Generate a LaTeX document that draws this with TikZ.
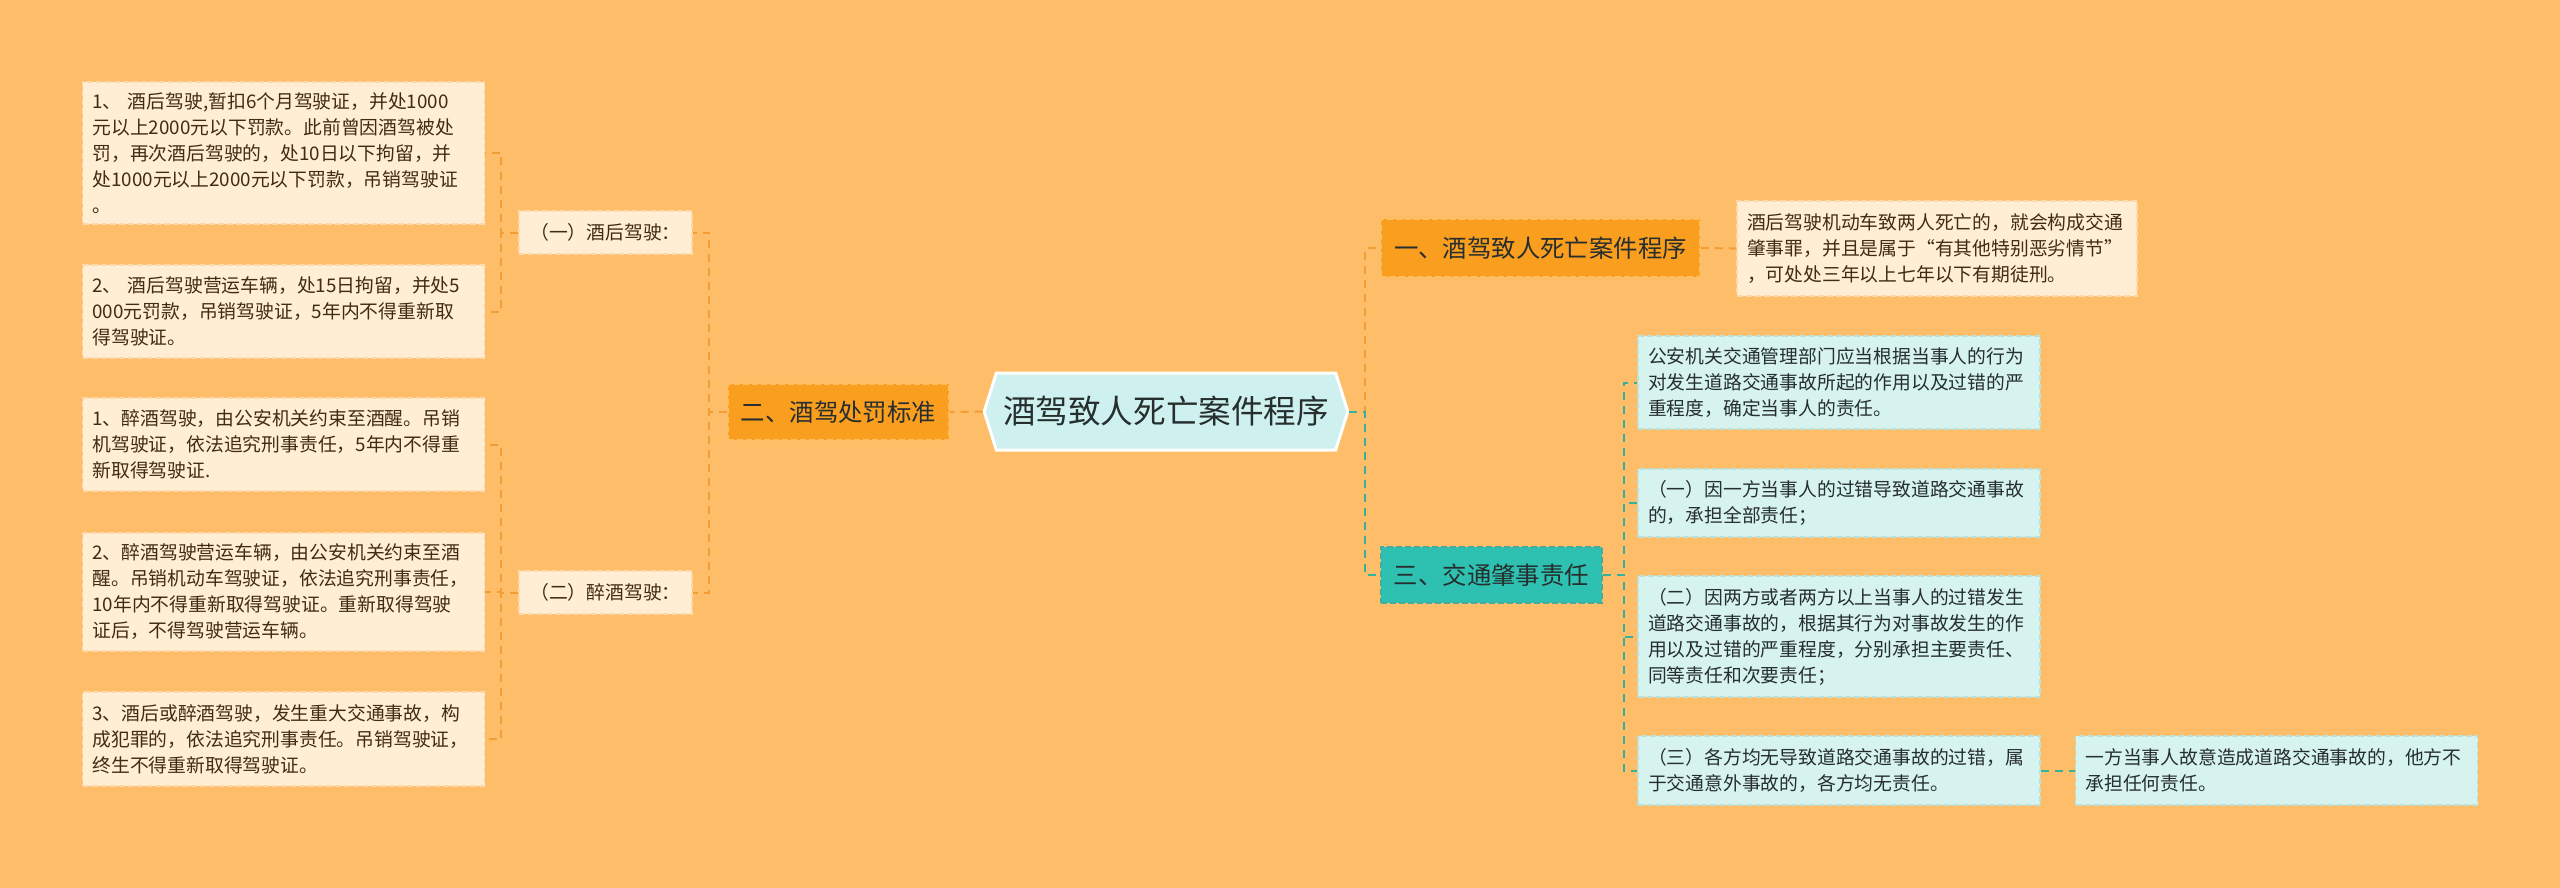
\documentclass[tikz,border=0pt]{standalone}
\usepackage{fontspec}
\setmainfont{Noto Sans CJK SC}
\usetikzlibrary{shapes.symbols}
\definecolor{bgorange}{RGB}{254,189,104}
\definecolor{leafo}{RGB}{255,237,212}
\definecolor{leafoline}{RGB}{252,218,172}
\definecolor{topo}{RGB}{249,158,30}
\definecolor{topoline}{RGB}{252,190,95}
\definecolor{topt}{RGB}{46,192,176}
\definecolor{toptline}{RGB}{70,170,160}
\definecolor{leaft}{RGB}{214,243,239}
\definecolor{leaftline}{RGB}{186,226,218}
\definecolor{hubfill}{RGB}{206,241,239}
\definecolor{lineo}{RGB}{242,158,52}
\definecolor{linet}{RGB}{52,178,158}
\definecolor{txtbrown}{RGB}{64,44,16}
\definecolor{txtdark}{RGB}{38,46,46}
\begin{document}
\begin{tikzpicture}[x=0.5pt,y=-0.5pt,font=\fontsize{9.4}{13}\selectfont,
  boxline/.style={dash pattern=on 3pt off 1.5pt,line width=0.8pt},
  oleaf/.style={boxline,fill=leafo,draw=leafoline,text=txtbrown,align=left,
    text width=191pt,inner xsep=5pt,inner ysep=0pt},
  tleaf/.style={oleaf,fill=leaft,draw=leaftline,text=txtdark},
  omid/.style={boxline,fill=leafo,draw=leafoline,text=txtbrown,
    minimum width=86.5pt,minimum height=21.5pt},
  obranch/.style={boxline,fill=topo,draw=topoline,text=txtdark,
    font=\fontsize{12.2}{14}\selectfont,minimum width=110.5pt,minimum height=28pt},
  tbranch/.style={obranch,fill=topt,draw=toptline},
  hub/.style={shape=signal,signal to=east and west,signal pointer angle=145,
    fill=hubfill,draw=white,line width=1.5pt,text=txtdark,
    font=\fontsize{16.3}{18}\selectfont,minimum width=181pt,minimum height=38.5pt},
  oline/.style={draw=lineo,line width=1pt,dash pattern=on 4pt off 3pt},
  tline/.style={draw=linet,line width=1pt,dash pattern=on 4pt off 3pt}]
  \fill[bgorange] (0,0) rectangle (2560,888);
  % centre
  \node[hub] (C) at (1166,411.5) {酒驾致人死亡案件程序};
  % left: penalties
  \node[obranch] (B) at (838.5,412) {二、酒驾处罚标准};
  \node[omid] (A1) at (605.5,232.5) {（一）酒后驾驶：};
  \node[omid] (A2) at (605.5,592.5) {（二）醉酒驾驶：};
  \node[oleaf,minimum height=71pt] (L1) at (283.5,153)
    {1、 酒后驾驶,暂扣6个月驾驶证，并处1000\\元以上2000元以下罚款。此前曾因酒驾被处\\
     罚，再次酒后驾驶的，处10日以下拘留，并\\处1000元以上2000元以下罚款，吊销驾驶证\\。};
  \node[oleaf,minimum height=46.5pt] (L2) at (283.5,311.5)
    {2、 酒后驾驶营运车辆，处15日拘留，并处5\\000元罚款，吊销驾驶证，5年内不得重新取\\得驾驶证。};
  \node[oleaf,minimum height=46.5pt] (L3) at (283.5,444.5)
    {1、醉酒驾驶，由公安机关约束至酒醒。吊销\\机驾驶证，依法追究刑事责任，5年内不得重\\新取得驾驶证.};
  \node[oleaf,minimum height=59pt] (L4) at (283.5,592)
    {2、醉酒驾驶营运车辆，由公安机关约束至酒\\醒。吊销机动车驾驶证，依法追究刑事责任，\\
     10年内不得重新取得驾驶证。重新取得驾驶\\证后，不得驾驶营运车辆。};
  \node[oleaf,minimum height=47pt] (L5) at (283.5,739)
    {3、酒后或醉酒驾驶，发生重大交通事故，构\\成犯罪的，依法追究刑事责任。吊销驾驶证，\\终生不得重新取得驾驶证。};
  % right: procedure and liability
  \node[obranch,minimum width=159.5pt,minimum height=29pt] (R1) at (1540.5,248)
    {一、酒驾致人死亡案件程序};
  \node[oleaf,text width=190pt,minimum height=47.5pt] (R1a) at (1937,248.5)
    {酒后驾驶机动车致两人死亡的，就会构成交通\\肇事罪，并且是属于“有其他特别恶劣情节”\\，可处处三年以上七年以下有期徒刑。};
  \node[tbranch] (R3) at (1491.5,575) {三、交通肇事责任};
  \node[tleaf,minimum height=46.5pt] (T1) at (1839,382.5)
    {公安机关交通管理部门应当根据当事人的行为\\对发生道路交通事故所起的作用以及过错的严\\重程度，确定当事人的责任。};
  \node[tleaf,minimum height=34pt] (T2) at (1839,503)
    {（一）因一方当事人的过错导致道路交通事故\\的，承担全部责任；};
  \node[tleaf,minimum height=60.5pt] (T3) at (1839,636.5)
    {（二）因两方或者两方以上当事人的过错发生\\道路交通事故的，根据其行为对事故发生的作\\
     用以及过错的严重程度，分别承担主要责任、\\同等责任和次要责任；};
  \node[tleaf,minimum height=34.5pt] (T4) at (1839,770.5)
    {（三）各方均无导致道路交通事故的过错，属\\于交通意外事故的，各方均无责任。};
  \node[tleaf,minimum height=34.5pt] (T5) at (2276.5,770.5)
    {一方当事人故意造成道路交通事故的，他方不\\承担任何责任。};
  % connectors
  \draw[oline] (C.west) -- (B.east);
  \foreach \n in {A1,A2} \draw[oline] (B.west) -- ++(-18,0) |- (\n.east);
  \foreach \n in {L1,L2} \draw[oline] (A1.west) -- ++(-17,0) |- (\n.east);
  \foreach \n in {L3,L4,L5} \draw[oline] (A2.west) -- ++(-17,0) |- (\n.east);
  \draw[oline] (C.east) -- ++(16,0) |- (R1.west);
  \draw[oline] (R1.east) -- (R1a.west);
  \draw[tline] (C.east) -- ++(16,0) |- (R3.west);
  \foreach \n in {T1,T2,T3,T4} \draw[tline] (R3.east) -- ++(21,0) |- (\n.west);
  \draw[tline] (T4.east) -- (T5.west);
\end{tikzpicture}
\end{document}
